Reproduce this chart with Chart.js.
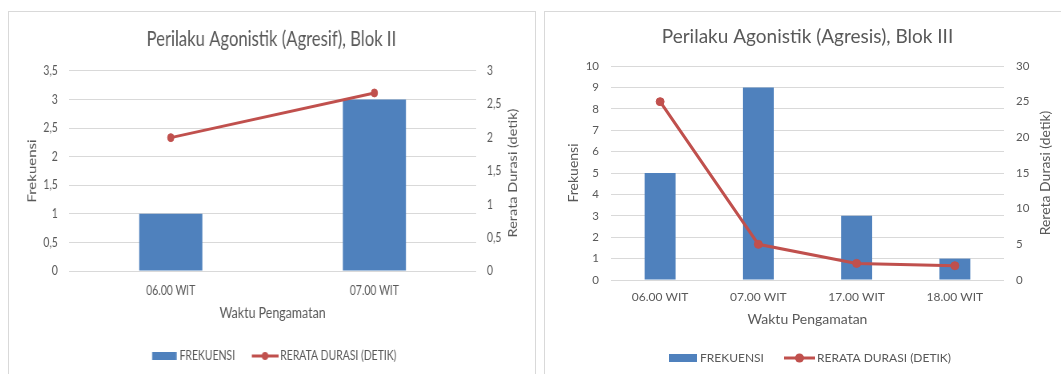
<!DOCTYPE html>
<html>
<head>
<meta charset="utf-8">
<script src="https://cdn.jsdelivr.net/npm/chart.js@4.4.1/dist/chart.umd.min.js"></script>
<style>
  html, body { margin: 0; padding: 0; background: #fff; width: 1061px; height: 374px; overflow: hidden; }
  .panel { position: absolute; border: 1px solid #d9d9d9; background: #fff; overflow: hidden; }
  #panelII { left: 8px; top: 11px; width: 526px; height: 372px; }
  #panelIII { left: 544px; top: 11px; width: 525px; height: 372px; }
  /* Blok II is drawn wide and narrowed horizontally */
  #narrowII { position: absolute; left: 0; top: 0; width: 656px; height: 362px; transform: scaleX(0.8); transform-origin: 0 0; }
  canvas { display: block; }
</style>
</head>
<body>
<div class="panel" id="panelII"><div id="narrowII"><canvas id="chartII" width="656" height="362"></canvas></div></div>
<div class="panel" id="panelIII"><canvas id="chartIII" width="525" height="362"></canvas></div>
<script>
// ---- Blok II ----
const blokIICategories = ['06.00 WIT', '07.00 WIT'];
const blokIIFrekuensi = [1, 3];
const blokIIDurasi = [2, 2.67];
const blokIIFrekTicks = ['0', '0,5', '1', '1,5', '2', '2,5', '3', '3,5'];
const blokIIDurTicks = ['0', '0,5', '1', '1,5', '2', '2,5', '3'];

// ---- Blok III ----
const blokIIICategories = ['06.00 WIT', '07.00 WIT', '17.00 WIT', '18.00 WIT'];
const blokIIIFrekuensi = [5, 9, 3, 1];
const blokIIIDurasi = [25, 5, 2.33, 2];
const blokIIIFrekTicks = ['0', '1', '2', '3', '4', '5', '6', '7', '8', '9', '10'];
const blokIIIDurTicks = ['0', '5', '10', '15', '20', '25', '30'];

const BAR_BLUE = '#4F81BD';
const LINE_RED = '#C0504D';
const TEXT_GRAY = '#595959';
const GRID_GRAY = '#d9d9d9';

Chart.defaults.font.family = 'Lato';

// Legend swatch: a canvas whose visible part spans [visStart, visEnd] relative to the legend box start
function makeSwatch(boxW, visStart, visEnd, h, paint) {
  const half = Math.max(boxW / 2 - visStart, visEnd - boxW / 2);
  const w = Math.ceil(half * 2);
  const c = document.createElement('canvas');
  c.width = w; c.height = h;
  const g = c.getContext('2d');
  const x0 = w / 2 - boxW / 2 + visStart;
  const x1 = w / 2 - boxW / 2 + visEnd;
  paint(g, x0, x1, h);
  return c;
}
function barSwatch(boxW, visStart, visEnd, barH) {
  return makeSwatch(boxW, visStart, visEnd, 12, (g, x0, x1, h) => {
    g.fillStyle = BAR_BLUE;
    g.fillRect(x0, (h - barH) / 2, x1 - x0, barH);
  });
}
function lineSwatch(boxW, visStart, visEnd, r) {
  return makeSwatch(boxW, visStart, visEnd, 12, (g, x0, x1, h) => {
    g.strokeStyle = LINE_RED; g.lineWidth = 3;
    g.beginPath(); g.moveTo(x0, h / 2); g.lineTo(x1, h / 2); g.stroke();
    g.fillStyle = LINE_RED;
    g.beginPath(); g.arc((x0 + x1) / 2, h / 2, r, 0, Math.PI * 2); g.fill();
  });
}

// Secondary axis title, reading bottom to top
const sideTitlePlugin = {
  id: 'sideTitle',
  afterDraw(chart, args, opts) {
    const { ctx, chartArea } = chart;
    const scale = chart.scales.y1;
    ctx.save();
    ctx.translate(scale.right - opts.inset, (chartArea.top + chartArea.bottom) / 2 + (opts.shift || 0));
    ctx.rotate(-Math.PI / 2);
    ctx.font = opts.size + 'px Lato';
    ctx.fillStyle = TEXT_GRAY;
    ctx.textAlign = 'center';
    ctx.textBaseline = 'middle';
    ctx.fillText(opts.text, 0, 0);
    ctx.restore();
  }
};

function buildChart(canvasId, cfg) {
  const swatches = cfg.swatches;
  return new Chart(document.getElementById(canvasId), {
    type: 'bar',
    data: {
      labels: cfg.categories,
      datasets: [
        {
          type: 'bar',
          label: 'FREKUENSI',
          data: cfg.frek,
          backgroundColor: BAR_BLUE,
          borderWidth: 0,
          yAxisID: 'y',
          order: 1,
          barPercentage: cfg.barPct,
          categoryPercentage: 1
        },
        {
          type: 'line',
          label: 'RERATA DURASI (DETIK)',
          data: cfg.dur,
          borderColor: LINE_RED,
          backgroundColor: LINE_RED,
          borderWidth: 3,
          pointRadius: 4,
          pointBackgroundColor: LINE_RED,
          pointBorderColor: LINE_RED,
          pointBorderWidth: 1,
          tension: 0,
          fill: false,
          yAxisID: 'y1',
          order: 0
        }
      ]
    },
    options: {
      responsive: false,
      animation: false,
      devicePixelRatio: 1,
      layout: { padding: { left: 0, right: 0, top: 0, bottom: cfg.padBottom } },
      scales: {
        x: {
          grid: { display: false, drawTicks: false },
          border: { display: false },
          ticks: { color: TEXT_GRAY, font: { size: cfg.xTickSize }, padding: cfg.xTickPad, maxRotation: 0, autoSkip: false },
          title: { display: true, text: 'Waktu Pengamatan', color: TEXT_GRAY, font: { size: cfg.xTitleSize }, padding: { top: 0, bottom: cfg.xTitlePad } },
          afterFit(s) { s.height = cfg.xHeight; }
        },
        y: {
          position: 'left',
          min: 0, max: cfg.frekMax,
          ticks: { stepSize: cfg.frekStep, color: TEXT_GRAY, font: { size: cfg.yTickSize }, padding: cfg.yTickPad,
                   callback: (v, i) => cfg.frekTicks[i] },
          grid: { color: GRID_GRAY, lineWidth: 1, drawTicks: false },
          border: { display: false },
          title: { display: true, text: 'Frekuensi', color: TEXT_GRAY, font: { size: cfg.yTitleSize }, padding: { top: cfg.yTitlePad, bottom: 0 } },
          afterFit(s) { s.width = cfg.yWidth; }
        },
        y1: {
          position: 'right',
          min: 0, max: cfg.durMax,
          ticks: { stepSize: cfg.durStep, color: TEXT_GRAY, font: { size: cfg.yTickSize }, padding: cfg.y1TickPad,
                   callback: (v, i) => cfg.durTicks[i] },
          grid: { display: false, drawTicks: false },
          border: { display: false },
          afterFit(s) { s.width = cfg.y1Width; }
        }
      },
      plugins: {
        tooltip: { enabled: false },
        title: {
          display: true,
          text: cfg.title,
          color: TEXT_GRAY,
          font: { size: cfg.titleSize, weight: 'normal' },
          padding: { top: cfg.titlePadTop, bottom: cfg.titlePadBottom }
        },
        legend: {
          position: 'bottom',
          labels: {
            usePointStyle: true,
            pointStyleWidth: cfg.legendBox,
            padding: cfg.legendPad,
            color: TEXT_GRAY,
            font: { size: cfg.legendSize },
            generateLabels: chart => chart.data.datasets.map((ds, i) => ({
              text: ds.label,
              pointStyle: swatches[i],
              fillStyle: 'rgba(0,0,0,0)',
              strokeStyle: 'rgba(0,0,0,0)',
              lineWidth: 0,
              hidden: false,
              datasetIndex: i,
              fontColor: TEXT_GRAY
            }))
          }
        },
        sideTitle: { text: cfg.sideTitle, size: cfg.sideSize, inset: cfg.sideInset, shift: cfg.sideShift }
      }
    },
    plugins: [sideTitlePlugin]
  });
}

buildChart('chartII', {
  categories: blokIICategories,
  frek: blokIIFrekuensi,
  dur: blokIIDurasi,
  frekTicks: blokIIFrekTicks,
  durTicks: blokIIDurTicks,
  frekMax: 3.5, frekStep: 0.5,
  durMax: 3, durStep: 0.5,
  barPct: 0.31,
  title: 'Perilaku Agonistik (Agresif), Blok II',
  titleSize: 20.8, titlePadTop: 14.8, titlePadBottom: 19.2,
  yWidth: 75, y1Width: 72,
  yTickSize: 13, yTickPad: 14, y1TickPad: 13.5,
  yTitleSize: 15, yTitlePad: 19.75,
  xTickSize: 13, xTickPad: 11.7,
  xTitleSize: 15.5, xTitlePad: 11.9, xHeight: 63.5,
  legendSize: 13, legendPad: 15, legendBox: 35,
  padBottom: 1.5,
  sideTitle: 'Rerata Durasi (detik)', sideSize: 14.5, sideInset: 26, sideShift: 2,
  swatches: [barSwatch(35, 35 - 27.75, 35 + 2.65, 8), lineSwatch(35, 35 - 29, 35 + 4, 4)]
});

buildChart('chartIII', {
  categories: blokIIICategories,
  frek: blokIIIFrekuensi,
  dur: blokIIIDurasi,
  frekTicks: blokIIIFrekTicks,
  durTicks: blokIIIDurTicks,
  frekMax: 10, frekStep: 1,
  durMax: 30, durStep: 5,
  barPct: 0.315,
  title: 'Perilaku Agonistik (Agresis), Blok III',
  titleSize: 19, titlePadTop: 13.6, titlePadBottom: 17.6,
  yWidth: 66, y1Width: 66,
  yTickSize: 11.5, yTickPad: 12, y1TickPad: 12,
  yTitleSize: 14, yTitlePad: 19.6,
  xTickSize: 12, xTickPad: 10,
  xTitleSize: 14, xTitlePad: 7.1, xHeight: 55,
  legendSize: 12, legendPad: 17, legendBox: 30,
  padBottom: 0,
  sideTitle: 'Rereta Durasi (detik)', sideSize: 14, sideInset: 25, sideShift: 0,
  swatches: [barSwatch(30, 5, 33, 8), lineSwatch(30, 3, 34, 4.5)]
});
</script>
</body>
</html>
